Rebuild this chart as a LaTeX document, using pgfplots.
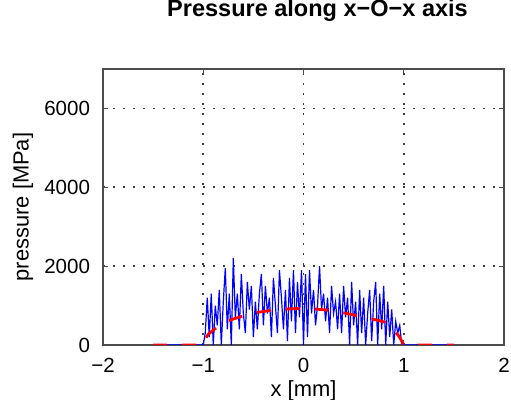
\documentclass[border=0pt]{standalone}
\usepackage{fontspec}
\setmainfont{Liberation Sans}
\usepackage{pgfplots}
\pgfplotsset{compat=1.18}
\begin{document}
\begin{tikzpicture}[x=1bp,y=1bp]
\begin{axis}[
  scale only axis,
  width=200.5bp, height=138bp,
  xmin=-2, xmax=2, ymin=0, ymax=7000,
  xtick={-2,-1,0,1,2},
  xticklabels={−2,−1,0,1,2},
  ytick={0,2000,4000,6000},
  yticklabels={0,2000,4000,6000},
  scaled y ticks=false,
  tick align=inside,
  tick pos=both,
  major tick length=2.5bp,
  axis line style={black!70, line width=0.7bp},
  every tick/.style={black!70, line width=0.5bp},
  grid=major,
  major grid style={black!75, line width=0.8bp, dash pattern=on 0.8bp off 4.2bp},
  tick label style={font=\fontsize{10.3}{12}\selectfont},
  yticklabel style={xshift=-3bp},
  xticklabel style={yshift=-3bp},
  xlabel={x [mm]},
  ylabel={pressure [MPa]},
  label style={font=\fontsize{11}{13}\selectfont},
  xlabel style={at={(axis description cs:0.5,-0.1884)}, anchor=base},
  ylabel style={at={(axis description cs:-0.1995,0.5)}, anchor=center},
  title={Pressure along x−O−x axis},
  title style={font=\bfseries\fontsize{11.8}{14}\selectfont, at={(axis description cs:0.535,1.1486)}, anchor=base},
]
\addplot[blue, line width=0.6bp] coordinates {
(-1.5,0) (-1.00,0) (-0.98,300) (-0.96,1200) (-0.94,200) (-0.92,1300) (-0.90,0)
(-0.88,1000) (-0.86,500) (-0.84,1400) (-0.82,0) (-0.80,1100) (-0.78,1950)
(-0.76,400) (-0.74,1300) (-0.72,0) (-0.70,2200) (-0.68,700) (-0.66,1300)
(-0.64,400) (-0.62,1800) (-0.60,800) (-0.58,300) (-0.56,1600) (-0.54,900)
(-0.52,1500) (-0.50,200) (-0.48,1100) (-0.46,400) (-0.44,1300) (-0.42,1800)
(-0.40,500) (-0.38,1500) (-0.36,800) (-0.34,1200) (-0.32,200) (-0.30,1700)
(-0.28,1000) (-0.26,300) (-0.24,1900) (-0.22,1200) (-0.20,400) (-0.18,1400)
(-0.16,100) (-0.14,1700) (-0.12,600) (-0.10,1900) (-0.08,300) (-0.06,1600)
(-0.04,700) (-0.02,1900) (0.00,0) (0.02,1800) (0.04,200) (0.06,1900)
(0.08,800) (0.10,1400) (0.12,500) (0.14,1000) (0.16,2000) (0.18,900)
(0.20,1300) (0.22,600) (0.24,1200) (0.26,300) (0.28,1500) (0.30,800)
(0.32,1100) (0.34,400) (0.36,1300) (0.38,300) (0.40,1500) (0.42,700)
(0.44,1200) (0.46,0) (0.48,1600) (0.50,500) (0.52,1100) (0.54,0)
(0.56,1400) (0.58,300) (0.60,1200) (0.62,0) (0.64,800) (0.66,1400)
(0.68,100) (0.70,1100) (0.72,1600) (0.74,0) (0.76,1300) (0.78,400)
(0.80,1500) (0.82,0) (0.84,1100) (0.86,200) (0.88,900) (0.90,0)
(0.92,600) (0.94,300) (0.96,500) (0.98,0) (1.00,0) (1.5,0)
};
\addplot[red, line width=1.4bp, dash pattern=on 7bp off 7.5bp] coordinates {
(-1.5,0) (-1.0,0) (-0.98,150) (-0.95,270) (-0.9,380) (-0.85,470) (-0.8,560)
(-0.75,610) (-0.7,660) (-0.65,700) (-0.6,740) (-0.55,770) (-0.5,800)
(-0.45,830) (-0.4,850) (-0.35,870) (-0.3,885) (-0.25,900) (-0.2,910)
(-0.15,915) (-0.1,920) (-0.05,925) (0,925) (0.05,920) (0.1,915) (0.15,905)
(0.2,895) (0.25,880) (0.3,860) (0.35,840) (0.4,815) (0.45,790) (0.5,760)
(0.55,730) (0.6,700) (0.65,670) (0.7,650) (0.75,620) (0.8,590) (0.85,500)
(0.9,380) (0.95,230) (0.98,100) (1.0,0) (1.5,0)
};
\end{axis}
\pgfresetboundingbox
\path (current axis.south west) ++(-51.5bp,-27.5bp) rectangle ++(255.5bp,200bp);
\end{tikzpicture}
\end{document}
